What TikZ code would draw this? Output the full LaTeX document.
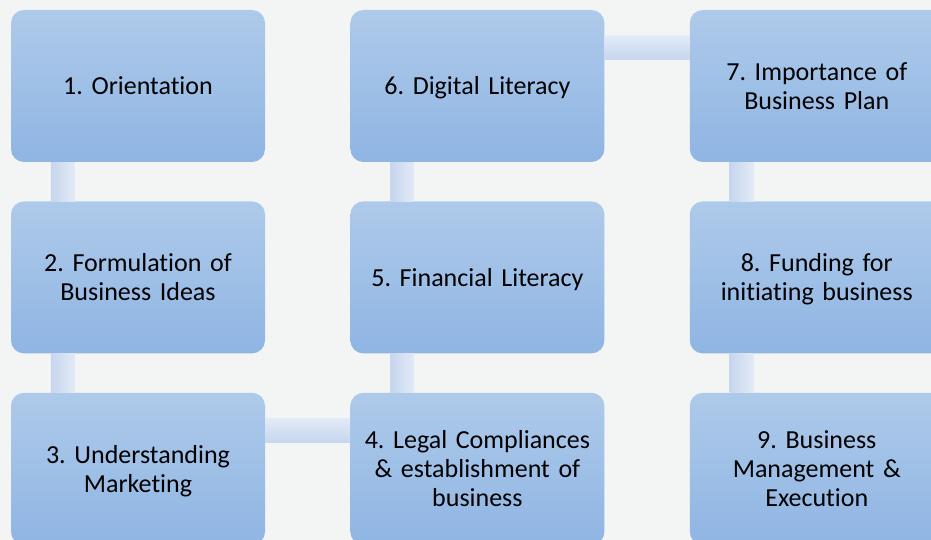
\documentclass[tikz,border=0pt]{standalone}
\usepackage{fontspec}
\setmainfont{Carlito}[RawFeature={-liga;-clig;-calt;-dlig}, WordSpace=0.85]
\usepackage{tikz}
\usetikzlibrary{positioning,calc}
\frenchspacing

\definecolor{pagebg}{RGB}{243,244,244}
\definecolor{boxtop}{RGB}{174,202,234}
\definecolor{boxbot}{RGB}{143,181,227}
\definecolor{barlight}{RGB}{226,234,246}
\definecolor{bardark}{RGB}{198,214,238}

\begin{document}
\begin{tikzpicture}[x=1pt, y=-1pt, node distance={39pt and 85pt},
    main/.style = {rectangle, rounded corners=13pt, minimum width=254pt, minimum height=152pt,
                   inner sep=4pt, top color=boxtop, bottom color=boxbot, draw=none,
                   text width=244pt, align=center, font=\fontsize{26}{29}\selectfont,
                   execute at begin node={\rule{0pt}{24.6pt}},
                   execute at end node={\rule[-7pt]{0pt}{7pt}}},
    vbar/.style = {left color=bardark, right color=barlight},
    hbar/.style = {top color=barlight, bottom color=bardark}]
            \clip (0,0) rectangle (931,540);
            \fill[pagebg] (0,0) rectangle (931,540);
            % Nodes
            \node[main] (1) at (138,86) {1. Orientation};
            \node[main] (2) [below=of 1] {2. Formulation of\\Business Ideas};
            \node[main] (3) [below=of 2] {3. Understanding\\Marketing};
            \node[main] (4) [right=of 3] {4. Legal Compliances\\\& establishment of\\business};
            \node[main] (5) [above=of 4] {5. Financial Literacy};
            \node[main] (6) [above=of 5] {6. Digital Literacy};
            \node[main] (7) [right=of 6] {7. Importance of\\Business Plan};
            \node[main] (8) [below=of 7] {8. Funding for\\initiating business};
            \node[main] (9) [below=of 8] {9. Business\\Management \&\\Execution};
            % Edges
            \shade[vbar] ($(1.south west)+(40,0)$) rectangle ($(2.north west)+(64,0)$);
            \shade[vbar] ($(2.south west)+(40,0)$) rectangle ($(3.north west)+(64,0)$);
            \shade[hbar] ($(3.north east)+(0,26)$) rectangle ($(4.north west)+(0,50)$);
            \shade[vbar] ($(4.north west)+(40,0)$) rectangle ($(5.south west)+(64,0)$);
            \shade[vbar] ($(5.north west)+(40,0)$) rectangle ($(6.south west)+(64,0)$);
            \shade[hbar] ($(6.north east)+(0,26)$) rectangle ($(7.north west)+(0,50)$);
            \shade[vbar] ($(7.south west)+(40,0)$) rectangle ($(8.north west)+(64,0)$);
            \shade[vbar] ($(8.south west)+(40,0)$) rectangle ($(9.north west)+(64,0)$);
\end{tikzpicture}
\end{document}
